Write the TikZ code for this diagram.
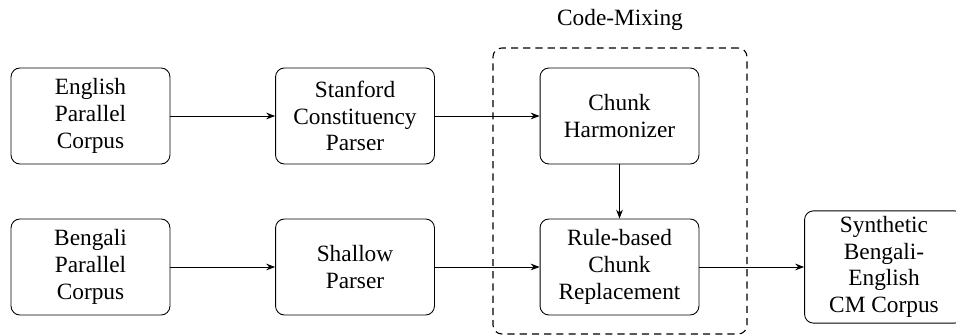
\documentclass[tikz,border=0pt]{standalone}
\usepackage{fontspec}
\setmainfont{Liberation Serif}
\usetikzlibrary{arrows.meta}
\begin{document}
\begin{tikzpicture}[x=0.45pt,y=-0.45pt,
  txt/.style={font=\fontsize{10.5}{12}\selectfont},
  blk/.style={txt,draw,rounded corners=4pt,align=center,
    minimum width=71.5pt,minimum height=43.2pt,inner sep=2.5pt},
  flow/.style={-{Stealth[length=4pt,width=3pt]}},
  group/.style={draw,line width=0.5pt,dash pattern=on 3.2pt off 2.3pt,
    rounded corners=4pt,minimum width=114.3pt,minimum height=128.7pt,
    inner sep=0pt}]
\useasboundingbox (0,0) rectangle (956,336);

% code-mixing stage frame and its title
\node[group] (mix) at (620,191) {};
\node[txt] (mixlbl) at (620,20) {Code-Mixing};

% processing blocks
\node[blk] (eng) at (90.5,116) {English\\Parallel\\Corpus};
\node[blk] (stan) at (355,116) {Stanford\\Constituency\\Parser};
\node[blk] (harm) at (619.5,116) {Chunk\\Harmonizer};
\node[blk] (ben) at (90.5,267) {Bengali\\Parallel\\Corpus};
\node[blk] (shal) at (355,267) {Shallow\\Parser};
\node[blk] (rule) at (619.5,267) {Rule-based\\Chunk\\Replacement};
\node[blk] (syn) at (884,267) {Synthetic\\Bengali-\\English\\CM Corpus};

% data flow
\draw[flow] (eng) -- (stan);
\draw[flow] (stan) -- (harm);
\draw[flow] (ben) -- (shal);
\draw[flow] (shal) -- (rule);
\draw[flow] (harm) -- (rule);
\draw[flow] (rule) -- (syn);
\end{tikzpicture}
\end{document}
